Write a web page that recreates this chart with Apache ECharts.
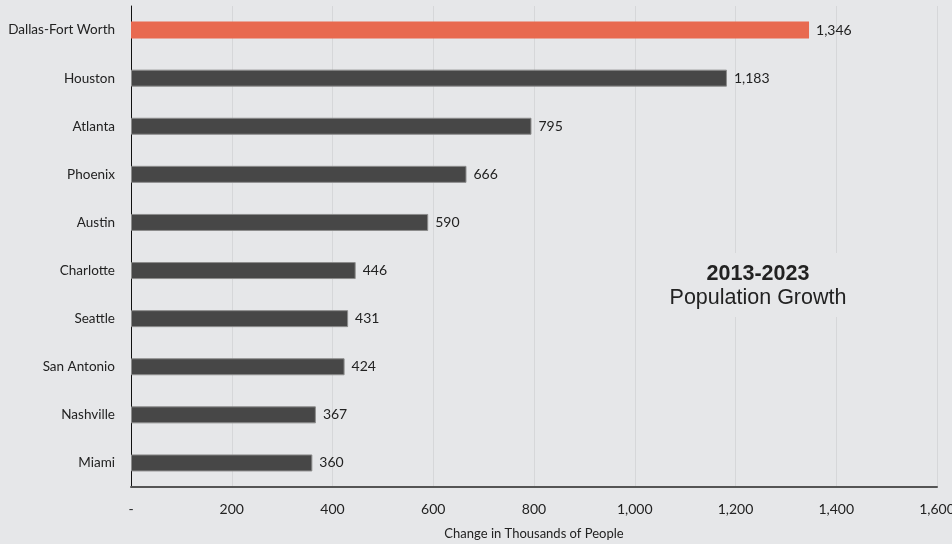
<!DOCTYPE html>
<html>
<head>
<meta charset="utf-8">
<script src="https://cdn.jsdelivr.net/npm/echarts@6/dist/echarts.min.js"></script>
<style>
  html, body { margin: 0; padding: 0; background: #e6e7e9; }
  #chart { width: 952px; height: 544px; }
</style>
</head>
<body>
<div id="chart"></div>
<script>
// Metro areas, largest growth first
const metros = ['Dallas-Fort Worth', 'Houston', 'Atlanta', 'Phoenix', 'Austin',
  'Charlotte', 'Seattle', 'San Antonio', 'Nashville', 'Miami'];
// Population change 2013-2023, thousands of people
const growth = [1346, 1183, 795, 666, 590, 446, 431, 424, 367, 360];
const highlightMetro = 'Dallas-Fort Worth';
const xTicks = ['-', '200', '400', '600', '800', '1,000', '1,200', '1,400', '1,600'];

const fmt = v => v.toLocaleString('en-US');
const bg = '#e6e7e9';

const chart = echarts.init(document.getElementById('chart'));
chart.setOption({
  backgroundColor: bg,
  animation: false,
  grid: { left: 131, right: 15, top: 6, bottom: 57, containLabel: false, outerBoundsMode: 'none' },
  xAxis: {
    type: 'value',
    min: 0, max: 1600, interval: 200,
    name: 'Change in Thousands of People',
    nameLocation: 'middle',
    nameGap: 40,
    nameTextStyle: { fontFamily: 'Lato', fontSize: 13, color: '#222' },
    axisLine: { show: true, lineStyle: { color: '#555', width: 2 } },
    axisTick: { show: false },
    axisLabel: {
      fontFamily: 'Lato', fontSize: 14, color: '#222', margin: 15,
      formatter: (v) => xTicks[Math.round(v / 200)]
    },
    splitLine: { show: true, lineStyle: { color: '#d6d7d9', width: 1 } }
  },
  yAxis: {
    type: 'category',
    data: metros,
    inverse: true,
    axisLine: { show: true, lineStyle: { color: '#111', width: 1 } },
    axisTick: { show: false },
    axisLabel: { fontFamily: 'Lato', fontSize: 13.5, color: '#222', margin: 16 },
    splitLine: { show: false }
  },
  series: [{
    type: 'bar',
    barWidth: 17,
    data: growth.map((v, i) => ({
      value: v,
      itemStyle: metros[i] === highlightMetro
        ? { color: '#e8694f', borderWidth: 0 }
        : { color: '#474747', borderColor: '#8c8c8c', borderWidth: 1 }
    })),
    label: {
      show: true, position: 'right', distance: 7,
      fontFamily: 'Lato', fontSize: 14, color: '#222',
      formatter: p => fmt(p.value)
    }
  }],
  graphic: [
    {
      // annotation panel sits over the grid lines
      type: 'rect', z: 10,
      shape: { x: 663, y: 253, width: 190, height: 64 },
      style: { fill: bg }
    },
    {
      type: 'text', x: 758, y: 274, z: 11,
      style: { text: '2013-2023', fill: '#222', align: 'center', verticalAlign: 'middle',
        font: 'bold 21.5px "Liberation Sans", Arial, sans-serif' }
    },
    {
      type: 'text', x: 758, y: 298, z: 11,
      style: { text: 'Population Growth', fill: '#222', align: 'center', verticalAlign: 'middle',
        font: '21.5px "Liberation Sans", Arial, sans-serif' }
    }
  ]
});
</script>
</body>
</html>
